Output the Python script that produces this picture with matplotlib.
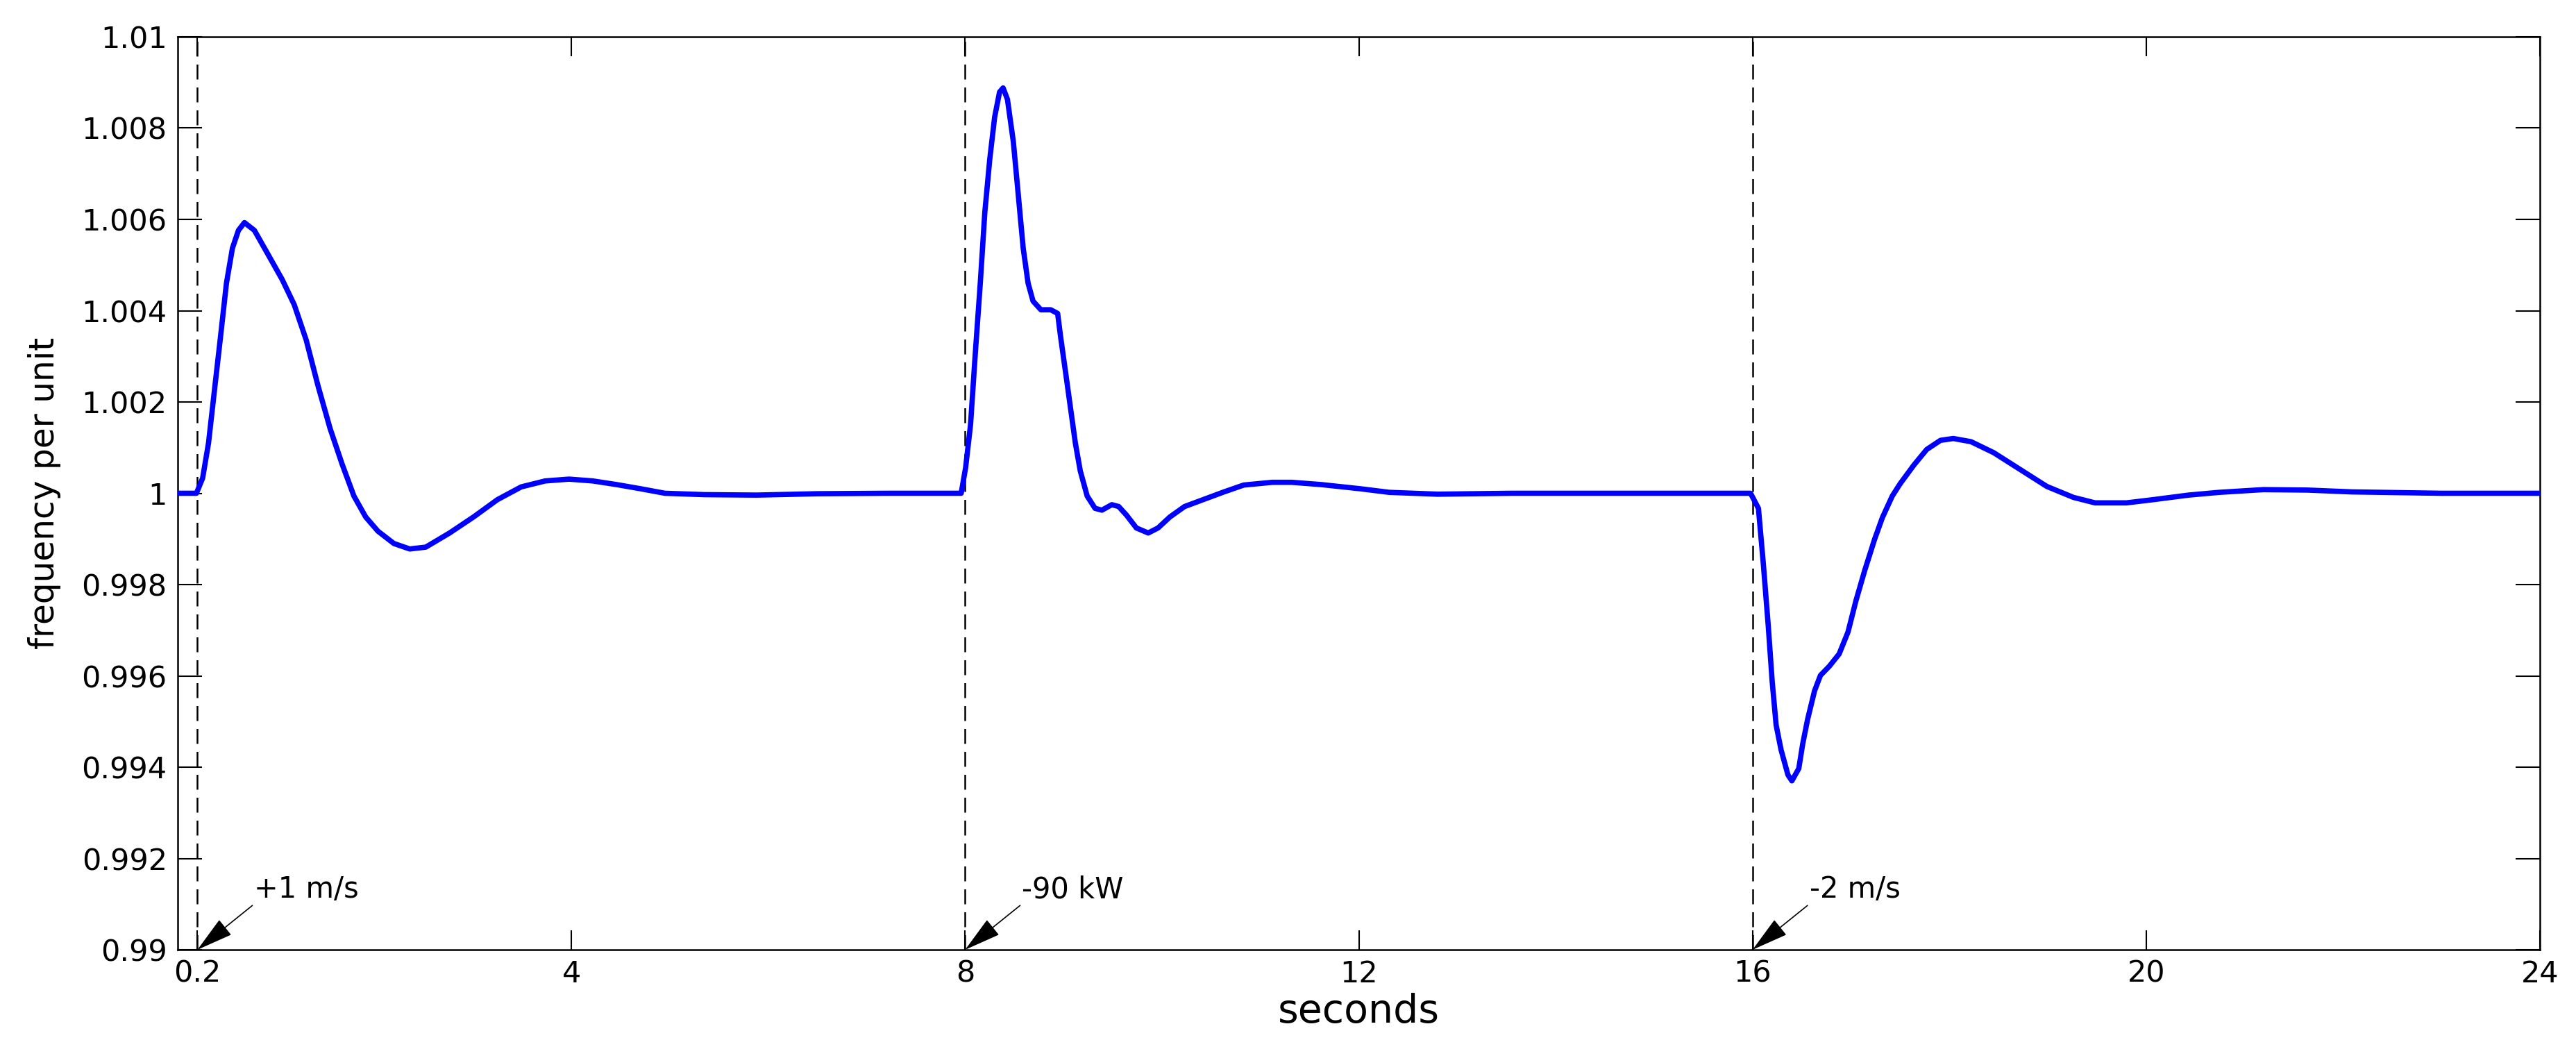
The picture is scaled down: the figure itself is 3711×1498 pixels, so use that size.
import numpy as np
import matplotlib
matplotlib.use("Agg")
import matplotlib.pyplot as plt

# frequency response (seconds, per unit)
t_sec = [0, 0.19, 0.253, 0.313, 0.374, 0.435, 0.495, 0.556, 0.617, 0.678, 0.779, 0.9,
         1.062, 1.184, 1.305, 1.426, 1.548, 1.67, 1.79, 1.91, 2.034, 2.196, 2.357, 2.52,
         2.762, 3.005, 3.248, 3.49, 3.733, 3.976, 4.218, 4.46, 4.7, 4.95, 5.35, 5.88,
         6.5, 7.2, 7.96,
         8.005, 8.055, 8.103, 8.154, 8.2, 8.25, 8.3, 8.35, 8.386, 8.43, 8.49, 8.54, 8.59,
         8.64, 8.69, 8.77, 8.87, 8.94, 8.97, 9.02, 9.07, 9.12, 9.17, 9.24, 9.32, 9.39,
         9.49, 9.56, 9.64, 9.74, 9.86, 9.96, 10.08, 10.23, 10.43, 10.63, 10.83, 11.12,
         11.32, 11.62, 12.01, 12.31, 12.8, 13.55, 15.12, 15.98,
         16.06, 16.11, 16.16, 16.2, 16.24, 16.29, 16.36, 16.4, 16.47, 16.51, 16.56, 16.63,
         16.69, 16.78, 16.88, 16.97, 17.05, 17.14, 17.24, 17.32, 17.42, 17.5, 17.64, 17.77,
         17.91, 18.04, 18.22, 18.45, 18.72, 18.99, 19.26, 19.48, 19.8, 20.07, 20.43, 20.74,
         21.19, 21.64, 22.09, 23.0, 24.0]
freq_pu = [1.0, 1.0, 1.00033, 1.0011, 1.00227, 1.00343, 1.0046, 1.00537, 1.00576, 1.00593,
           1.00576, 1.0053, 1.00468, 1.00413, 1.00336, 1.00235, 1.00142, 1.00064, 0.99994,
           0.99948, 0.99917, 0.9989, 0.99878, 0.99882, 0.99913, 0.99948, 0.99986, 1.00014,
           1.00027, 1.00031, 1.00027, 1.00019, 1.0001, 1.0, 0.99997, 0.99996, 0.99999, 1.0,
           1.0,
           1.00056, 1.0015, 1.00305, 1.0046, 1.00615, 1.00731, 1.00824, 1.00879, 1.00888,
           1.00863, 1.0077, 1.00654, 1.00537, 1.0046, 1.00421, 1.00402, 1.00402, 1.00394,
           1.00343, 1.00266, 1.00188, 1.0011, 1.00049, 0.99994, 0.99967, 0.99963, 0.99975,
           0.99971, 0.99952, 0.99924, 0.99913, 0.99924, 0.99948, 0.99971, 0.99987, 1.00003,
           1.00018, 1.00024, 1.00024, 1.00019, 1.0001, 1.00002, 0.99998, 1.0, 1.0, 1.0,
           0.99967, 0.99845, 0.99709, 0.99587, 0.99492, 0.99438, 0.99383, 0.9937, 0.99397,
           0.99451, 0.99505, 0.99567, 0.99601, 0.99621, 0.99648, 0.99696, 0.99764, 0.99831,
           0.99899, 0.99947, 0.99994, 1.00021, 1.00062, 1.00096, 1.00116, 1.0012, 1.00113,
           1.00089, 1.00052, 1.00015, 0.99991, 0.99979, 0.99979, 0.99986, 0.99996, 1.00002,
           1.00008, 1.00007, 1.00003, 1.0, 1.0]

# disturbance events
event_t = [0.2, 8, 16]
event_txt = ["+1 m/s", "-90 kW", "-2 m/s"]

x_ticks = [0.2, 4, 8, 12, 16, 20, 24]
x_ticklabels = ["0.2", "4", "8", "12", "16", "20", "24"]
y_ticks = [0.99, 0.992, 0.994, 0.996, 0.998, 1.0, 1.002, 1.004, 1.006, 1.008, 1.01]
y_ticklabels = ["0.99", "0.992", "0.994", "0.996", "0.998", "1",
                "1.002", "1.004", "1.006", "1.008", "1.01"]

fig = plt.figure(figsize=(37.12, 14.98), dpi=100)
ax = fig.add_axes([0.06897, 0.08678, 0.91676, 0.87784])

# dashed markers where each step is applied
lw_dash = 1.8
for te in event_t:
    ax.axvline(te, color="black", lw=lw_dash, linestyle=(0, (8.6, 4.6)), zorder=1)

ax.plot(t_sec, freq_pu, color="#0000ff", lw=5.5, zorder=3, solid_joinstyle="round")

for te, txt in zip(event_t, event_txt):
    ax.annotate(txt, xy=(te, 0.99), xytext=(59, 54), textcoords="offset points",
                fontsize=30, ha="left", va="baseline",
                arrowprops=dict(arrowstyle="-|>,head_length=1.7,head_width=0.45",
                                mutation_scale=20, color="black", lw=1.2,
                                relpos=(0, 0), shrinkA=0, shrinkB=0))

ax.set_xlim(0, 24)
ax.set_ylim(0.99, 1.01)
ax.set_xticks(x_ticks)
ax.set_xticklabels(x_ticklabels)
ax.set_yticks(y_ticks)
ax.set_yticklabels(y_ticklabels)

ax.tick_params(direction="in", top=True, right=True, labelsize=31, width=1.5, colors="black")
ax.tick_params(axis="x", length=20, pad=10)
ax.tick_params(axis="y", length=25, pad=11)
for s in ax.spines.values():
    s.set_linewidth(1.8)

ax.set_xlabel("seconds", fontsize=41)
ax.set_ylabel("frequency per unit", fontsize=35)
ax.xaxis.set_label_coords(0.5, -0.047)
ax.yaxis.set_label_coords(-0.0494, 0.5)

fig.savefig("out.png", dpi=100)
